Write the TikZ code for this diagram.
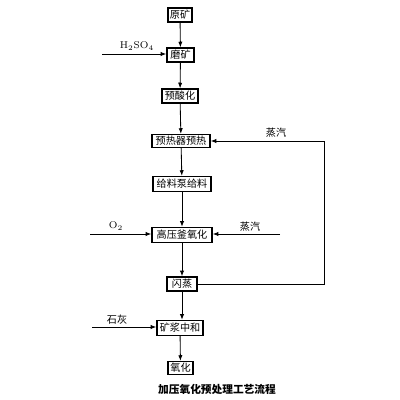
\documentclass[tikz,border=0pt]{standalone}
\usepackage{fontspec}
\newfontfamily\cjk{Noto Sans CJK SC}
\usetikzlibrary{arrows.meta}
\begin{document}
\begin{tikzpicture}[x=0.025cm,y=-0.025cm,
  box/.style={draw,line width=0.9pt,inner sep=0pt,font=\cjk\fontsize{7.2}{8}\selectfont},
  lbl/.style={inner sep=0pt,font=\cjk\fontsize{7.2}{8}\selectfont},
  arr/.style={line width=0.6pt,-{Latex[length=4pt,width=3pt]}},
  ln/.style={line width=0.6pt}]
\useasboundingbox (0,0) rectangle (400,400);
\node[box,minimum width=24*0.025cm,minimum height=14*0.025cm] (ky) at (180,15) {原矿};
\node[box,minimum width=27*0.025cm,minimum height=14*0.025cm] (mk) at (180.5,55) {磨矿};
\node[box,minimum width=36*0.025cm,minimum height=14*0.025cm] (ysh) at (180,96) {预酸化};
\node[box,minimum width=58*0.025cm,minimum height=13*0.025cm] (yr) at (181,141) {预热器预热};
\node[box,minimum width=58*0.025cm,minimum height=15*0.025cm] (gl) at (182,184) {给料泵给料};
\node[box,minimum width=60*0.025cm,minimum height=15*0.025cm] (gy) at (182,235) {高压釜氧化};
\node[box,minimum width=30*0.025cm,minimum height=14*0.025cm] (sz) at (182,284) {闪蒸};
\node[box,minimum width=46*0.025cm,minimum height=15*0.025cm] (kj) at (180,328) {矿浆中和};
\node[box,minimum width=25*0.025cm,minimum height=13*0.025cm] (yh) at (180.5,368) {氧化};
\node[lbl,font=\cjk\bfseries\fontsize{7.6}{9}\selectfont] (cap) at (217,389) {加压氧化预处理工艺流程};
% inputs
\coordinate (h0) at (102,54);
\coordinate (o0) at (90,234);
\coordinate (s0) at (280,234);
\coordinate (l0) at (92,327);
\coordinate (c1) at (324,141);
\coordinate (c2) at (324,284);
\node[inner sep=0pt,font=\fontsize{7}{8}\selectfont] (hl) at (137,46) {H$_2$SO$_4$};
\node[inner sep=0pt,font=\fontsize{7}{8}\selectfont] (ol) at (116,226) {O$_2$};
\node[lbl] (sl) at (250,227) {蒸汽};
\node[lbl] (sl2) at (276,133) {蒸汽};
\node[lbl] (shl) at (117,320) {石灰};
% main flow
\draw[arr] (ky) -- (mk);
\draw[arr] (mk) -- (ysh);
\draw[arr] (ysh) -- (yr);
\draw[arr] (yr) -- (gl);
\draw[arr] (gl) -- (gy);
\draw[arr] (gy) -- (sz);
\draw[arr] (sz) -- (sz|-kj.north);
\draw[arr] (kj) -- (yh);
% side inputs
\draw[arr] (h0) -- (h0-|mk.west);
\draw[arr] (o0) -- (o0-|gy.west);
\draw[arr] (s0) -- (s0-|gy.east);
\draw[arr] (l0) -- (l0-|kj.west);
% feedback
\draw[arr] (sz.east) -- (c2) -- (c1) -- (yr.east);
\end{tikzpicture}
\end{document}
